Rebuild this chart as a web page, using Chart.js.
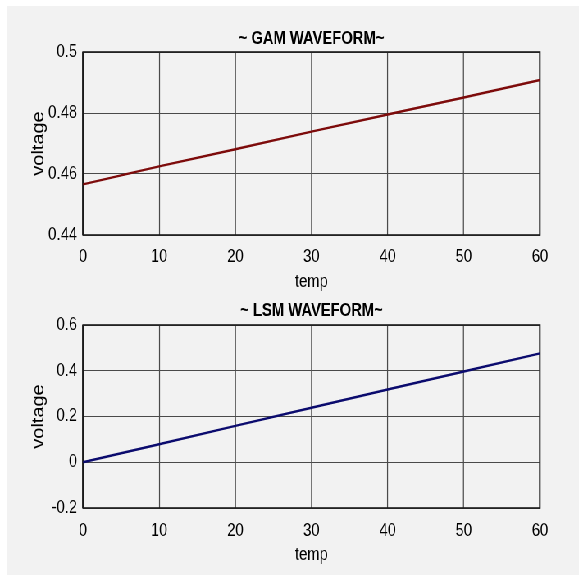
<!DOCTYPE html>
<html>
<head>
<meta charset="utf-8">
<script src="https://cdn.jsdelivr.net/npm/chart.js@4.4.1/dist/chart.umd.min.js"></script>
<style>
  html, body { margin: 0; padding: 0; background: #ffffff; overflow: hidden; }
  #fig { position: absolute; left: 7px; top: 6px; width: 572px; height: 569px; background: #f2f2f2; }
  /* the reference figure is squeezed sideways, so draw wide and scale x down */
  #wrap { position: absolute; left: 0; top: 0; width: 717px; height: 575px;
          transform: scaleX(0.82); transform-origin: 0 0; }
  canvas { position: absolute; left: 0; }
  #gamChart { top: 0; }
  #lsmChart { top: 280px; }
</style>
</head>
<body>
<div id="fig"></div>
<div id="wrap">
  <canvas id="gamChart" width="717" height="300"></canvas>
  <canvas id="lsmChart" width="717" height="295"></canvas>
</div>
<script>
// values
const temps = [0, 10, 20, 30, 40, 50, 60];
const gamVoltage = [0.4566, 0.4625, 0.4681, 0.4739, 0.4795, 0.4851, 0.4908];
const lsmVoltage = [0, 0.079, 0.159, 0.238, 0.318, 0.397, 0.476];

// tick labels
const tempTicks = [0, 10, 20, 30, 40, 50, 60];
const gamTicks = [0.44, 0.46, 0.48, 0.5];
const lsmTicks = [-0.2, 0, 0.2, 0.4, 0.6];

const face = "'Liberation Sans', Arial, sans-serif";
const squeeze = 0.82;

// vertical grid lines snapped to whole screen pixels (after the css squeeze),
// then the black frame round the plot area like a MATLAB axes box
const boxPlugin = {
    id: 'axesBox',
    beforeDatasetsDraw(chart) {
        const a = chart.chartArea;
        const ctx = chart.ctx;
        const xs = chart.scales.x;
        ctx.save();
        ctx.strokeStyle = '#4a4a4a';
        ctx.lineWidth = 1 / squeeze;
        xs.ticks.forEach(t => {
            const sx = Math.round(xs.getPixelForValue(t.value) * squeeze - 0.5) + 0.5;
            ctx.beginPath();
            ctx.moveTo(sx / squeeze, a.top);
            ctx.lineTo(sx / squeeze, a.bottom);
            ctx.stroke();
        });
        ctx.strokeStyle = '#1a1a1a';
        ctx.lineWidth = 1.6;
        ctx.strokeRect(a.left, a.top, a.right - a.left, a.bottom - a.top);
        ctx.restore();
    }
};

function makeChart(id, title, values, yTicks, color, lay) {
    const ctx = document.getElementById(id).getContext('2d');
    return new Chart(ctx, {
        type: 'line',
        data: {
            datasets: [{
                data: temps.map((t, i) => ({ x: t, y: values[i] })),
                borderColor: color,
                borderWidth: 2.5,
                pointRadius: 0,
                fill: false,
                tension: 0
            }]
        },
        options: {
            responsive: false,
            animation: false,
            devicePixelRatio: 1,
            layout: { padding: { top: lay.top, right: 58.5, bottom: 0, left: 0 } },
            plugins: {
                legend: { display: false },
                tooltip: { enabled: false },
                title: {
                    display: true,
                    text: title,
                    fullSize: false,
                    color: '#000',
                    font: { family: face, size: 18, weight: 'bold', lineHeight: 1 },
                    padding: { top: 0, bottom: lay.titleGap }
                }
            },
            scales: {
                x: {
                    type: 'linear',
                    min: tempTicks[0],
                    max: tempTicks[tempTicks.length - 1],
                    afterBuildTicks: s => { s.ticks = tempTicks.map(v => ({ value: v })); },
                    afterFit: s => { s.height = lay.xh; },
                    grid: { color: 'rgba(0,0,0,0)', drawTicks: false },
                    border: { display: false },
                    ticks: {
                        color: '#000',
                        padding: lay.xpad,
                        maxRotation: 0,
                        font: { family: face, size: 18, lineHeight: 1 },
                        callback: v => String(v)
                    },
                    title: {
                        display: true,
                        text: 'temp',
                        color: '#000',
                        font: { family: face, size: 18, lineHeight: 1 },
                        padding: { top: 0, bottom: lay.xtitle }
                    }
                },
                y: {
                    type: 'linear',
                    min: yTicks[0],
                    max: yTicks[yTicks.length - 1],
                    afterBuildTicks: s => { s.ticks = yTicks.map(v => ({ value: v })); },
                    afterFit: s => { s.width = 101.2; },
                    grid: { color: '#4a4a4a', lineWidth: 1, drawTicks: false },
                    border: { display: false },
                    ticks: {
                        color: '#000',
                        padding: 7.3,
                        font: { family: face, size: 18, lineHeight: 1 },
                        callback: v => String(v)
                    },
                    title: {
                        display: true,
                        text: 'voltage',
                        color: '#000',
                        font: { family: face, size: 20, lineHeight: 1 },
                        padding: { top: 37.5, bottom: 0 }
                    }
                }
            }
        },
        plugins: [boxPlugin]
    });
}

makeChart('gamChart', '~ GAM WAVEFORM~', gamVoltage, gamTicks, '#7d0b0b',
    { top: 30, titleGap: 4, xh: 65, xpad: 13, xtitle: 9 });
makeChart('lsmChart', '~ LSM WAVEFORM~', lsmVoltage, lsmTicks, '#0b0b6e',
    { top: 22, titleGap: 5, xh: 67, xpad: 14, xtitle: 11 });
</script>
</body>
</html>
